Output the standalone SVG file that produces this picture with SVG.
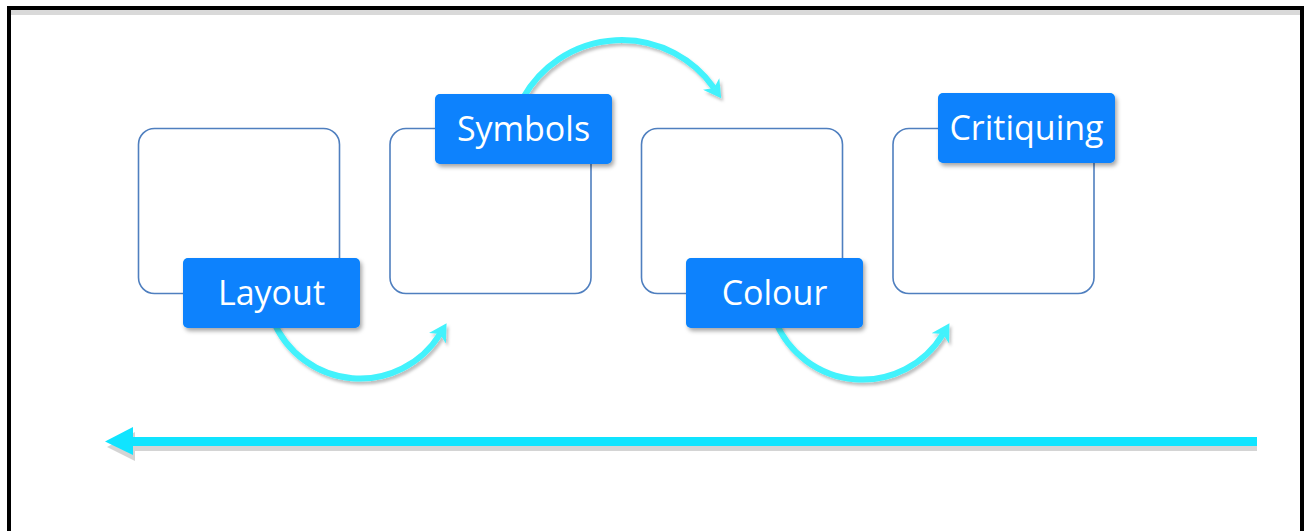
<svg xmlns="http://www.w3.org/2000/svg" width="1304" height="531" viewBox="0 0 1304 531">
<defs>
<style>
.frame{fill:none;stroke:#000;stroke-width:4}
.box{fill:#fff;stroke:#4f7fbf;stroke-width:1.6}
.lbl{fill:#0782fd;filter:url(#sh)}
.txt{fill:#fff;font-family:"Open Sans","Noto Sans",sans-serif;font-size:34px;text-anchor:middle}
.arc{fill:none;stroke:#42f2fc;stroke-width:6;marker-end:url(#ah);filter:url(#sh2)}
</style>
<filter id="sh" x="-20%" y="-20%" width="140%" height="150%">
<feDropShadow dx="2" dy="3" stdDeviation="2" flood-color="#000" flood-opacity="0.35"/>
</filter>
<filter id="sh2" x="-20%" y="-20%" width="140%" height="150%">
<feDropShadow dx="2" dy="3" stdDeviation="1.5" flood-color="#000" flood-opacity="0.25"/>
</filter>
<marker id="ah" markerUnits="userSpaceOnUse" markerWidth="20" markerHeight="20" refX="4" refY="8" orient="auto" viewBox="0 0 16 16">
<path d="M0,0 L14,8 L0,16 L4,8 Z" fill="#42f2fc"/>
</marker>
</defs>
<rect x="0" y="0" width="1304" height="531" fill="#fff"/>
<rect x="11" y="10" width="1289" height="5" fill="#d9d9d9"/>
<rect class="frame" x="9" y="8" width="1293" height="525"/>

<g id="box1"><rect class="box" x="138.5" y="128.5" width="201" height="165" rx="16"/></g>
<g id="box2"><rect class="box" x="390" y="128.5" width="201" height="165" rx="16"/></g>
<g id="box3"><rect class="box" x="641.5" y="128.5" width="201" height="165" rx="16"/></g>
<g id="box4"><rect class="box" x="893" y="128.5" width="201" height="165" rx="16"/></g>

<g id="connectors">
<path class="arc" d="M273,320 A94,94 0 0 0 440,334"/>
<path class="arc" d="M523,98 A113,113 0 0 1 714,88"/>
<path class="arc" d="M775,320 A94,94 0 0 0 943,334"/>
<g id="timeline">
<rect x="133" y="446" width="1124" height="5" fill="#d4d4d4"/>
<polygon points="107,447 135,432 135,461" fill="#d4d4d4"/>
<rect x="131" y="437" width="1126" height="9" fill="#10e4ff"/>
<polygon points="105,441.5 133,427 133,455" fill="#10e4ff"/>
</g>
</g>

<g id="layout"><rect class="lbl" x="183" y="258" width="177" height="70" rx="5"/><text class="txt" x="271.5" y="305">Layout</text></g>
<g id="symbols"><rect class="lbl" x="435" y="94" width="177" height="70" rx="5"/><text class="txt" x="523.5" y="141">Symbols</text></g>
<g id="colour"><rect class="lbl" x="686" y="258" width="177" height="70" rx="5"/><text class="txt" x="774.5" y="305">Colour</text></g>
<g id="critiquing"><rect class="lbl" x="938" y="93" width="177" height="70" rx="5"/><text class="txt" x="1026.5" y="140">Critiquing</text></g>
</svg>
